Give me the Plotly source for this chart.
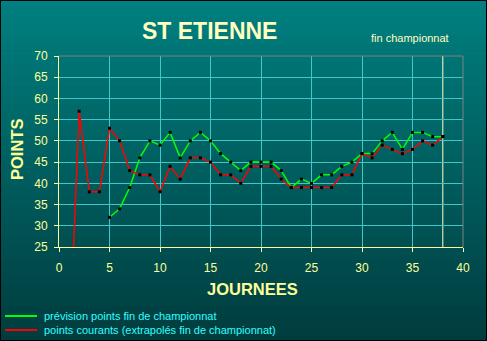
import plotly.graph_objects as go

# ---- data ----
journees = list(range(1, 39))
points_courants = [0, 57, 38, 38, 53, 50, 43, 42, 42, 38, 44, 41, 46, 46, 45, 42, 42, 40, 44,
                   44, 44, 41, 39, 39, 39, 39, 39, 42, 42, 47, 46, 49, 48, 47, 48, 50, 49, 51]
journees_prev = list(range(5, 39))
prevision = [32, 34, 39, 46, 50, 49, 52, 46, 50, 52, 50, 47, 45, 43, 45, 45, 45, 43, 39,
             41, 40, 42, 42, 44, 45, 47, 47, 50, 52, 48, 52, 52, 51, 51]
x_ticks = [0, 5, 10, 15, 20, 25, 30, 35, 40]
y_ticks = [25, 30, 35, 40, 45, 50, 55, 60, 65, 70]
fin_journee = 38

W, H = 487, 341
L, R, T, B = 59, 24, 56, 94
PW, PH = W - L - R, H - T - B


def px(x):
    return (x - L) / PW


def py(y):
    return (H - B - y) / PH


FONT = "Arial, Liberation Sans, sans-serif"
YEL = "#FFFF99"
PALE = "#FFFFC0"
GRID = "#40C8C8"

shapes = []
# vertical gradient background
N = 68
top = (0, 128, 128)
bot = (0, 60, 62)
for i in range(N):
    y0 = i * H / N
    y1 = (i + 1) * H / N + 0.6
    t = (i + 0.5) / N
    c = tuple(round(top[k] + (bot[k] - top[k]) * t) for k in range(3))
    shapes.append(dict(type="rect", xref="paper", yref="paper", layer="below",
                       x0=px(0), x1=px(W), y0=py(y1), y1=py(y0),
                       line=dict(width=0), fillcolor="rgb(%d,%d,%d)" % c))
# black frame
shapes.append(dict(type="rect", xref="paper", yref="paper", layer="above",
                   x0=px(0.5), x1=px(W - 0.5), y0=py(H - 0.5), y1=py(0.5),
                   line=dict(color="black", width=1), fillcolor="rgba(0,0,0,0)"))
# grey top and right borders of the plot
shapes.append(dict(type="line", xref="paper", yref="paper", layer="above",
                   x0=0, x1=1, y0=1, y1=1, line=dict(color="#808080", width=1)))
shapes.append(dict(type="line", xref="paper", yref="paper", layer="above",
                   x0=1, x1=1, y0=0, y1=1, line=dict(color="#808080", width=1)))
# end of championship marker
shapes.append(dict(type="line", xref="x", yref="paper", layer="below",
                   x0=fin_journee, x1=fin_journee, y0=0, y1=1,
                   line=dict(color=PALE, width=1)))
# legend samples
shapes.append(dict(type="line", xref="paper", yref="paper", layer="above",
                   x0=px(5), x1=px(37), y0=py(316), y1=py(316),
                   line=dict(color="#00FF00", width=2)))
shapes.append(dict(type="line", xref="paper", yref="paper", layer="above",
                   x0=px(5), x1=px(37), y0=py(330), y1=py(330),
                   line=dict(color="#FF0000", width=2)))

annotations = [
    dict(text="<b>ST ETIENNE</b>", x=px(209), y=py(31), xref="paper", yref="paper",
         showarrow=False, xanchor="center", yanchor="middle",
         font=dict(family=FONT, size=23, color=PALE)),
    dict(text="fin championnat", x=px(369), y=py(38), xref="paper", yref="paper",
         showarrow=False, xanchor="left", yanchor="middle",
         font=dict(family=FONT, size=11, color=PALE)),
    dict(text="<b>POINTS</b>", x=px(17), y=py(150), xref="paper", yref="paper",
         showarrow=False, xanchor="center", yanchor="middle", textangle=-90,
         font=dict(family=FONT, size=16.5, color=YEL)),
    dict(text="<b>JOURNEES</b>", x=px(252), y=py(289), xref="paper", yref="paper",
         showarrow=False, xanchor="center", yanchor="middle",
         font=dict(family=FONT, size=16.5, color=YEL)),
    dict(text="prévision points fin de championnat", x=px(42), y=py(316),
         xref="paper", yref="paper", showarrow=False, xanchor="left", yanchor="middle",
         font=dict(family=FONT, size=11, color="#30FFFF")),
    dict(text="points courants (extrapolés fin de championnat)", x=px(42), y=py(330),
         xref="paper", yref="paper", showarrow=False, xanchor="left", yanchor="middle",
         font=dict(family=FONT, size=11, color="#30FFFF")),
]

fig = go.Figure()
fig.add_trace(go.Scatter(x=journees_prev, y=prevision, mode="lines+markers",
                         line=dict(color="#00FF00", width=1.5),
                         marker=dict(symbol="square", size=3, color="black"),
                         name="prévision points fin de championnat"))
fig.add_trace(go.Scatter(x=journees, y=points_courants, mode="lines+markers",
                         line=dict(color="#FF0000", width=1.5),
                         marker=dict(symbol="square", size=3, color="black"),
                         name="points courants (extrapolés fin de championnat)"))

fig.update_layout(
    width=W, height=H, autosize=False,
    margin=dict(l=L, r=R, t=T, b=B, pad=0),
    paper_bgcolor="#006060", plot_bgcolor="rgba(0,0,0,0)",
    showlegend=False, shapes=shapes, annotations=annotations,
    font=dict(family=FONT, size=12, color=YEL),
    xaxis=dict(range=[0, 40], tickvals=x_ticks, ticktext=[str(v) for v in x_ticks],
               showgrid=True, gridcolor=GRID, gridwidth=1, zeroline=False,
               showline=True, linecolor=YEL, linewidth=1,
               ticks="outside", ticklen=4, tickcolor=YEL, tickwidth=1,
               tickfont=dict(family=FONT, size=12, color=YEL), ticklabelstandoff=6),
    yaxis=dict(range=[25, 70], tickvals=y_ticks, ticktext=[str(v) for v in y_ticks],
               showgrid=True, gridcolor=GRID, gridwidth=1, zeroline=False,
               showline=True, linecolor=YEL, linewidth=1,
               ticks="outside", ticklen=4, tickcolor=YEL, tickwidth=1,
               tickfont=dict(family=FONT, size=12, color=YEL), ticklabelstandoff=4),
)

fig.write_html("out.html")
